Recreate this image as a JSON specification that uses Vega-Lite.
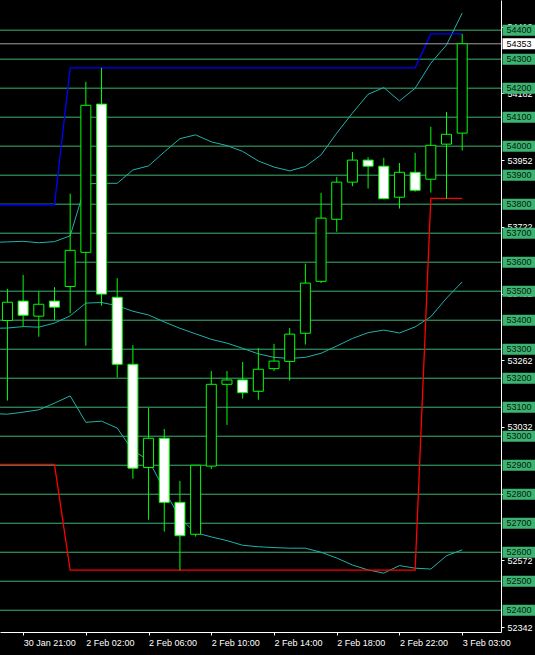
{
  "$schema": "https://vega.github.io/schema/vega-lite/v6.json",
  "width": 501,
  "height": 632,
  "autosize": {"type": "none"},
  "padding": {"left": 0, "top": 0, "right": 34, "bottom": 23},
  "background": "#000000",
  "config": {"font": "Liberation Sans", "view": {"stroke": null, "fill": "#000000"}},
  "datasets": {
    "bars": [
      {"i": 0, "o": 53399, "h": 53508, "l": 53123, "c": 53462},
      {"i": 1, "o": 53466, "h": 53556, "l": 53379, "c": 53417},
      {"i": 2, "o": 53414, "h": 53500, "l": 53343, "c": 53455},
      {"i": 3, "o": 53466, "h": 53514, "l": 53401, "c": 53445},
      {"i": 4, "o": 53516, "h": 53836, "l": 53424, "c": 53641},
      {"i": 5, "o": 53634, "h": 54222, "l": 53312, "c": 54141},
      {"i": 6, "o": 54145, "h": 54270, "l": 53450, "c": 53490},
      {"i": 7, "o": 53479, "h": 53545, "l": 53202, "c": 53248},
      {"i": 8, "o": 53248, "h": 53314, "l": 52853, "c": 52890},
      {"i": 9, "o": 52892, "h": 53097, "l": 52712, "c": 52993},
      {"i": 10, "o": 52993, "h": 53025, "l": 52671, "c": 52772},
      {"i": 11, "o": 52772, "h": 52846, "l": 52538, "c": 52657},
      {"i": 12, "o": 52662, "h": 52900, "l": 52654, "c": 52900},
      {"i": 13, "o": 52897, "h": 53225, "l": 52887, "c": 53179},
      {"i": 14, "o": 53179, "h": 53225, "l": 53039, "c": 53194},
      {"i": 15, "o": 53194, "h": 53256, "l": 53130, "c": 53150},
      {"i": 16, "o": 53155, "h": 53304, "l": 53126, "c": 53231},
      {"i": 17, "o": 53233, "h": 53318, "l": 53225, "c": 53259},
      {"i": 18, "o": 53258, "h": 53373, "l": 53192, "c": 53352},
      {"i": 19, "o": 53355, "h": 53595, "l": 53316, "c": 53528},
      {"i": 20, "o": 53534, "h": 53839, "l": 53528, "c": 53752},
      {"i": 21, "o": 53748, "h": 53894, "l": 53705, "c": 53876},
      {"i": 22, "o": 53876, "h": 53980, "l": 53862, "c": 53952},
      {"i": 23, "o": 53952, "h": 53962, "l": 53854, "c": 53931},
      {"i": 24, "o": 53931, "h": 53960, "l": 53817, "c": 53819},
      {"i": 25, "o": 53824, "h": 53942, "l": 53785, "c": 53910},
      {"i": 26, "o": 53910, "h": 53977, "l": 53843, "c": 53848},
      {"i": 27, "o": 53886, "h": 54067, "l": 53840, "c": 54003},
      {"i": 28, "o": 54007, "h": 54118, "l": 53819, "c": 54041},
      {"i": 29, "o": 54045, "h": 54387, "l": 53985, "c": 54353}
    ],
    "lines": [
      {"i": -1, "bu": 53668, "bm": 53372, "bl": 53078, "dh": 53798, "dl": 52903},
      {"i": 0, "bu": 53670, "bm": 53373, "bl": 53076, "dh": 53798, "dl": 52903},
      {"i": 1, "bu": 53672, "bm": 53378, "bl": 53083, "dh": 53798, "dl": 52903},
      {"i": 2, "bu": 53667, "bm": 53376, "bl": 53091, "dh": 53798, "dl": 52903},
      {"i": 3, "bu": 53671, "bm": 53390, "bl": 53114, "dh": 53798, "dl": 52903},
      {"i": 4, "bu": 53691, "bm": 53415, "bl": 53139, "dh": 54270, "dl": 52538},
      {"i": 5, "bu": 53870, "bm": 53459, "bl": 53048, "dh": 54270, "dl": 52538},
      {"i": 6, "bu": 53872, "bm": 53461, "bl": 53052, "dh": 54270, "dl": 52538},
      {"i": 7, "bu": 53872, "bm": 53450, "bl": 53028, "dh": 54270, "dl": 52538},
      {"i": 8, "bu": 53918, "bm": 53431, "bl": 52950, "dh": 54270, "dl": 52538},
      {"i": 9, "bu": 53932, "bm": 53418, "bl": 52918, "dh": 54270, "dl": 52538},
      {"i": 10, "bu": 53980, "bm": 53394, "bl": 52815, "dh": 54270, "dl": 52538},
      {"i": 11, "bu": 54026, "bm": 53372, "bl": 52718, "dh": 54270, "dl": 52538},
      {"i": 12, "bu": 54039, "bm": 53353, "bl": 52667, "dh": 54270, "dl": 52538},
      {"i": 13, "bu": 54015, "bm": 53334, "bl": 52653, "dh": 54270, "dl": 52538},
      {"i": 14, "bu": 54002, "bm": 53321, "bl": 52640, "dh": 54270, "dl": 52538},
      {"i": 15, "bu": 53982, "bm": 53303, "bl": 52624, "dh": 54270, "dl": 52538},
      {"i": 16, "bu": 53949, "bm": 53284, "bl": 52619, "dh": 54270, "dl": 52538},
      {"i": 17, "bu": 53928, "bm": 53272, "bl": 52616, "dh": 54270, "dl": 52538},
      {"i": 18, "bu": 53915, "bm": 53268, "bl": 52614, "dh": 54270, "dl": 52538},
      {"i": 19, "bu": 53930, "bm": 53272, "bl": 52614, "dh": 54270, "dl": 52538},
      {"i": 20, "bu": 53970, "bm": 53286, "bl": 52600, "dh": 54270, "dl": 52538},
      {"i": 21, "bu": 54045, "bm": 53311, "bl": 52580, "dh": 54270, "dl": 52538},
      {"i": 22, "bu": 54114, "bm": 53337, "bl": 52556, "dh": 54270, "dl": 52538},
      {"i": 23, "bu": 54179, "bm": 53357, "bl": 52539, "dh": 54270, "dl": 52538},
      {"i": 24, "bu": 54202, "bm": 53366, "bl": 52528, "dh": 54270, "dl": 52538},
      {"i": 25, "bu": 54156, "bm": 53356, "bl": 52554, "dh": 54270, "dl": 52538},
      {"i": 26, "bu": 54200, "bm": 53377, "bl": 52545, "dh": 54270, "dl": 52538},
      {"i": 27, "bu": 54286, "bm": 53412, "bl": 52542, "dh": 54387, "dl": 53820},
      {"i": 28, "bu": 54349, "bm": 53476, "bl": 52588, "dh": 54387, "dl": 53820},
      {"i": 29, "bu": 54459, "bm": 53532, "bl": 52608, "dh": 54387, "dl": 53820}
    ],
    "levels": [
      {"p": 52400}, {"p": 52500}, {"p": 52600}, {"p": 52700}, {"p": 52800},
      {"p": 52900}, {"p": 53000}, {"p": 53100}, {"p": 53200}, {"p": 53300},
      {"p": 53400}, {"p": 53500}, {"p": 53600}, {"p": 53700}, {"p": 53800},
      {"p": 53900}, {"p": 54000}, {"p": 54100}, {"p": 54200}, {"p": 54300},
      {"p": 54400}
    ]
  },
  "layer": [
    {
      "data": {"name": "levels"},
      "mark": {"type": "rule", "color": "#3cb371", "strokeWidth": 1},
      "encoding": {
        "y": {
          "field": "p", "type": "quantitative", "title": null,
          "scale": {"domain": [52325, 54504], "nice": false, "zero": false},
          "axis": {
            "orient": "right", "title": null, "grid": false,
            "values": [52342, 52457, 52572, 52687, 52802, 52917, 53032, 53147, 53262, 53377, 53492, 53607, 53722, 53837, 53952, 54067, 54182, 54297, 54412],
            "format": "d", "labelColor": "#ffffff", "labelFontSize": 9, "labelFont": "Liberation Sans",
            "tickColor": "#ffffff", "tickSize": 3, "labelPadding": 3, "domainColor": "#ffffff",
            "labelOverlap": false, "labelFlush": false, "labelBaseline": "middle"
          }
        }
      }
    },
    {
      "data": {"name": "lines"},
      "mark": {"type": "line", "color": "#20b2aa", "strokeWidth": 1, "clip": true},
      "encoding": {
        "x": {"field": "i", "type": "quantitative", "title": null, "scale": {"domain": [-0.15625, 31.15625], "nice": false, "zero": false}},
        "y": {"field": "bu", "type": "quantitative", "title": null}
      }
    },
    {
      "data": {"name": "lines"},
      "mark": {"type": "line", "color": "#20b2aa", "strokeWidth": 1, "clip": true},
      "encoding": {
        "x": {"field": "i", "type": "quantitative", "title": null},
        "y": {"field": "bm", "type": "quantitative", "title": null}
      }
    },
    {
      "data": {"name": "lines"},
      "mark": {"type": "line", "color": "#20b2aa", "strokeWidth": 1, "clip": true},
      "encoding": {
        "x": {"field": "i", "type": "quantitative", "title": null},
        "y": {"field": "bl", "type": "quantitative", "title": null}
      }
    },
    {
      "data": {"name": "lines"},
      "mark": {"type": "line", "color": "#0000ff", "strokeWidth": 1.3, "clip": true},
      "encoding": {
        "x": {"field": "i", "type": "quantitative", "title": null},
        "y": {"field": "dh", "type": "quantitative", "title": null}
      }
    },
    {
      "data": {"name": "lines"},
      "mark": {"type": "line", "color": "#ff0000", "strokeWidth": 1.3, "clip": true},
      "encoding": {
        "x": {"field": "i", "type": "quantitative", "title": null},
        "y": {"field": "dl", "type": "quantitative", "title": null}
      }
    },
    {
      "data": {"name": "bars"},
      "transform": [{"filter": "datum.i == 29"}],
      "mark": {"type": "rule", "color": "#a0a0a0", "strokeWidth": 1},
      "encoding": {
        "y": {"field": "c", "type": "quantitative", "title": null}
      }
    },
    {
      "data": {"name": "bars"},
      "mark": {"type": "rule", "color": "#00ff00", "strokeWidth": 1, "clip": true},
      "encoding": {
        "x": {
          "field": "i", "type": "quantitative", "title": null,
          "axis": {
            "title": null, "grid": false,
            "values": [-3, 1, 5, 9, 13, 17, 21, 25, 29],
            "labelExpr": "datum.value == -3 ? '30 Jan 17:00' : datum.value == 1 ? '30 Jan 21:00' : datum.value == 5 ? '2 Feb 02:00' : datum.value == 9 ? '2 Feb 06:00' : datum.value == 13 ? '2 Feb 10:00' : datum.value == 17 ? '2 Feb 14:00' : datum.value == 21 ? '2 Feb 18:00' : datum.value == 25 ? '2 Feb 22:00' : '3 Feb 03:00'",
            "labelAlign": "left", "labelColor": "#ffffff", "labelFontSize": 9, "labelFont": "Liberation Sans",
            "tickColor": "#ffffff", "tickSize": 3, "labelPadding": 3, "domainColor": "#ffffff",
            "labelOverlap": false, "labelFlush": false, "labelBound": false
          }
        },
        "y": {"field": "l", "type": "quantitative", "title": null},
        "y2": {"field": "h"}
      }
    },
    {
      "data": {"name": "bars"},
      "mark": {"type": "bar", "width": 10, "stroke": "#00ff00", "strokeWidth": 1, "clip": true},
      "encoding": {
        "x": {"field": "i", "type": "quantitative", "title": null},
        "y": {"field": "o", "type": "quantitative", "title": null},
        "y2": {"field": "c"},
        "fill": {"condition": {"test": "datum.c > datum.o", "value": "#000000"}, "value": "#ffffff"}
      }
    },
    {
      "data": {"name": "levels"},
      "mark": {"type": "tick", "orient": "horizontal", "color": "#3cb371", "opacity": 1, "thickness": 11, "size": 33, "clip": false},
      "encoding": {
        "x": {"value": {"expr": "width + 18"}},
        "y": {"field": "p", "type": "quantitative", "title": null}
      }
    },
    {
      "data": {"name": "levels"},
      "mark": {"type": "text", "color": "#06200f", "fontSize": 9, "font": "Liberation Sans", "align": "center", "baseline": "middle", "clip": false},
      "encoding": {
        "x": {"value": {"expr": "width + 18"}},
        "y": {"field": "p", "type": "quantitative", "title": null},
        "text": {"field": "p", "type": "quantitative", "format": "d"}
      }
    },
    {
      "data": {"name": "bars"},
      "transform": [{"filter": "datum.i == 29"}],
      "mark": {"type": "tick", "orient": "horizontal", "color": "#ffffff", "opacity": 1, "thickness": 11, "size": 33, "clip": false},
      "encoding": {
        "x": {"value": {"expr": "width + 18"}},
        "y": {"field": "c", "type": "quantitative", "title": null}
      }
    },
    {
      "data": {"name": "bars"},
      "transform": [{"filter": "datum.i == 29"}],
      "mark": {"type": "text", "color": "#000000", "fontSize": 9, "font": "Liberation Sans", "align": "center", "baseline": "middle", "clip": false},
      "encoding": {
        "x": {"value": {"expr": "width + 18"}},
        "y": {"field": "c", "type": "quantitative", "title": null},
        "text": {"field": "c", "type": "quantitative", "format": "d"}
      }
    }
  ]
}
